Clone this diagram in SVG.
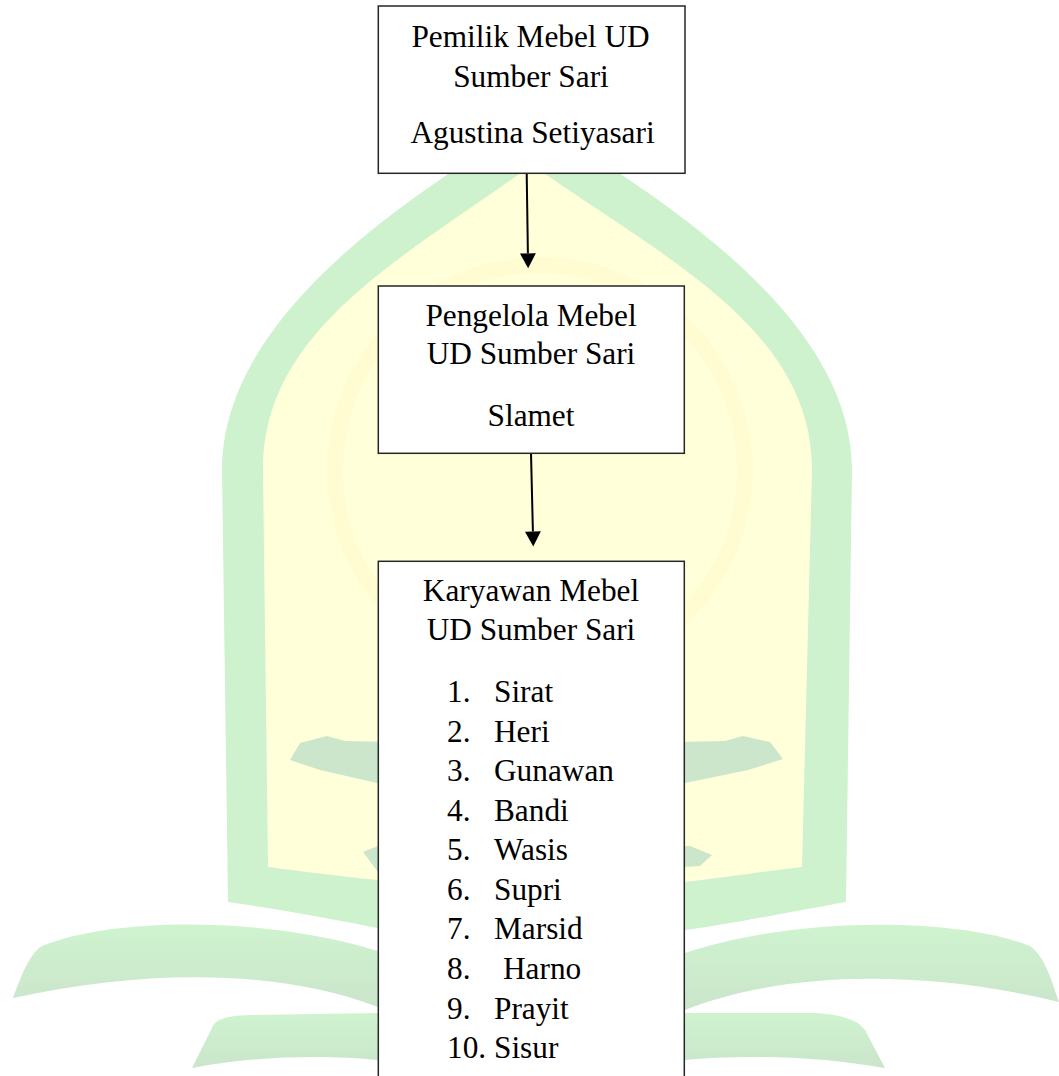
<svg xmlns="http://www.w3.org/2000/svg" width="1059" height="1076" viewBox="0 0 1059 1076">
  <defs>
    <style>
      .box { fill: #ffffff; stroke: #262626; stroke-width: 1.5; }
      .t { font-family: "Liberation Serif", "Times New Roman", serif; font-size: 31.3px; fill: #000000; }
      .c { text-anchor: middle; }
      .conn { stroke: #000000; stroke-width: 2; fill: none; marker-end: url(#arrow); }
      .wm-green { fill: #cef2ce; }
      .wm-band { fill: #cbe6cb; }
      .wm-yellow { fill: #ffffda; }
    </style>
    <marker id="arrow" markerUnits="userSpaceOnUse" markerWidth="16" markerHeight="16" viewBox="0 0 15 16" refX="0" refY="8" orient="auto">
      <path d="M0,0 L15,8 L0,16 Z" fill="#000000"/>
    </marker>
    <linearGradient id="wingGrad" x1="0" y1="0" x2="0" y2="1">
      <stop offset="0" stop-color="#cff3cf"/>
      <stop offset="1" stop-color="#cbe5cb"/>
    </linearGradient>
  </defs>

  <rect x="0" y="0" width="1059" height="1076" fill="#ffffff"/>

  <!-- watermark background -->
  <g id="watermark">
    <path class="wm-green" d="M228,902 L222,470 C222,320 400,200 534,120 C668,200 852,320 852,470 L846,902 C790,912 720,926 685,930 L534,940 L377,928 C330,918 270,908 228,902 Z"/>
    <path class="wm-yellow" d="M268,867 L263,470 C263,330 400,260 532,165 C668,260 812,330 812,470 L802,867 C760,872 720,878 685,882 L534,886 L377,880 C330,875 290,870 268,867 Z"/>
    <circle cx="540" cy="470" r="205" fill="none" stroke="#fefcd0" stroke-width="16"/>
    <path class="wm-band" d="M290,760 L300,743 L327,736 L345,741 L534,745 L725,741 L743,736 L770,742 L783,759 L748,770 L685,783 L534,790 L377,783 L320,770 Z"/>
    <path class="wm-band" d="M363,852 L378,846 L534,848 L690,846 L712,855 L700,866 L534,876 L378,872 Z"/>
    <path fill="url(#wingGrad)" d="M13,998 C20,980 28,955 42,946 C110,918 260,915 378,951 L378,1007 C280,970 150,968 13,998 Z"/>
    <path fill="url(#wingGrad)" d="M1059,1002 C1052,982 1045,956 1030,946 C960,918 800,915 685,953 L685,1010 C780,972 920,968 1059,1002 Z"/>
    <path fill="url(#wingGrad)" d="M192,1068 L212,1028 Q215,1015 253,1015 L378,1013 L378,1060 C330,1055 260,1055 192,1068 Z"/>
    <path fill="url(#wingGrad)" d="M885,1068 L865,1030 Q855,1015 815,1013 L684,1013 L684,1060 C740,1055 810,1055 885,1068 Z"/>
  </g>

  <g id="connectors">
    <line class="conn" x1="526.7" y1="173.5" x2="527.9" y2="253.3"/>
    <line class="conn" x1="531" y1="453.3" x2="532.9" y2="531.5"/>
  </g>

  <g id="node-pemilik">
    <rect class="box" x="378.3" y="6" width="306.7" height="167.3"/>
    <text class="t c" x="530.5" y="46.7">Pemilik Mebel UD</text>
    <text class="t c" x="531" y="86.7">Sumber Sari</text>
    <text class="t c" x="532.5" y="143.3">Agustina Setiyasari</text>
  </g>

  <g id="node-pengelola">
    <rect class="box" x="378.3" y="286" width="306" height="167.3"/>
    <text class="t c" x="531" y="325.7">Pengelola Mebel</text>
    <text class="t c" x="531" y="364">UD Sumber Sari</text>
    <text class="t c" x="531" y="426">Slamet</text>
  </g>

  <g id="node-karyawan">
    <rect class="box" x="378.3" y="561.3" width="306" height="530"/>
    <text class="t c" x="531" y="600.5">Karyawan Mebel</text>
    <text class="t c" x="531" y="639.5">UD Sumber Sari</text>
    <text class="t" x="447" y="702">1.</text><text class="t" x="494" y="702">Sirat</text>
    <text class="t" x="447" y="741.5">2.</text><text class="t" x="494" y="741.5">Heri</text>
    <text class="t" x="447" y="781">3.</text><text class="t" x="494" y="781">Gunawan</text>
    <text class="t" x="447" y="820.5">4.</text><text class="t" x="494" y="820.5">Bandi</text>
    <text class="t" x="447" y="860">5.</text><text class="t" x="494" y="860">Wasis</text>
    <text class="t" x="447" y="899.5">6.</text><text class="t" x="494" y="899.5">Supri</text>
    <text class="t" x="447" y="939">7.</text><text class="t" x="494" y="939">Marsid</text>
    <text class="t" x="447" y="979">8.</text><text class="t" x="503" y="979">Harno</text>
    <text class="t" x="447" y="1018.5">9.</text><text class="t" x="494" y="1018.5">Prayit</text>
    <text class="t" x="447" y="1058">10.</text><text class="t" x="494" y="1058">Sisur</text>
  </g>
</svg>
